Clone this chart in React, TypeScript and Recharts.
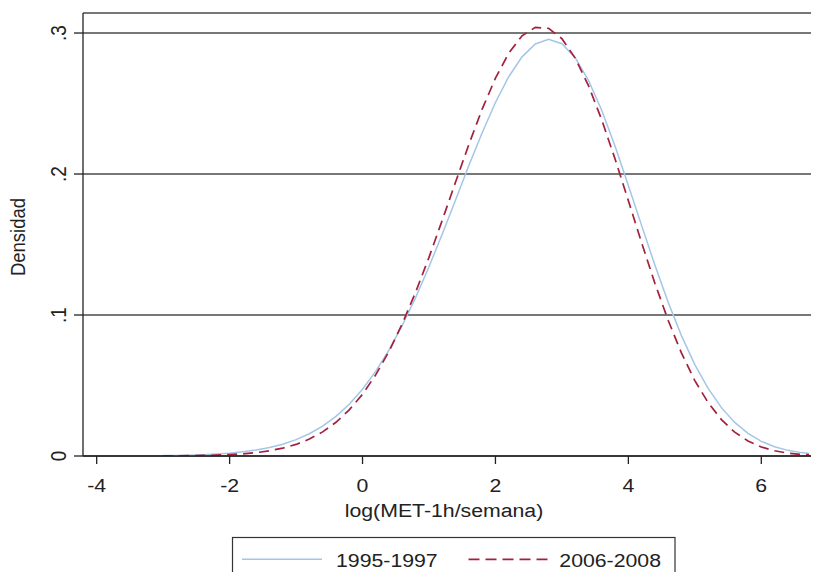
import { LineChart, Line, XAxis, YAxis, CartesianGrid, Label } from "recharts";

// evaluation points of the kernel density (log MET-h/week)
const xPoints = [
  -3.0, -2.8, -2.6, -2.4, -2.2, -2.0, -1.8, -1.6, -1.4, -1.2, -1.0, -0.8, -0.6, -0.4, -0.2,
  0.0, 0.2, 0.4, 0.6, 0.8, 1.0, 1.2, 1.4, 1.6, 1.8, 2.0, 2.2, 2.4, 2.6, 2.8,
  3.0, 3.2, 3.4, 3.6, 3.8, 4.0, 4.2, 4.4, 4.6, 4.8, 5.0, 5.2, 5.4, 5.6, 5.8,
  6.0, 6.2, 6.4, 6.6, 6.72,
];

const dens9597 = [
  0.0003, 0.0004, 0.0006, 0.0009, 0.0014, 0.002, 0.003, 0.0042, 0.006, 0.0084, 0.0116, 0.0158, 0.0212, 0.0281, 0.0367,
  0.0474, 0.0602, 0.0752, 0.0928, 0.1125, 0.1342, 0.1575, 0.1816, 0.206, 0.2293, 0.2507, 0.269, 0.2831, 0.2922, 0.2955,
  0.2924, 0.2825, 0.2664, 0.2451, 0.2197, 0.1919, 0.1634, 0.1353, 0.1089, 0.0852, 0.0648, 0.0479, 0.0343, 0.0238, 0.016,
  0.0104, 0.0066, 0.004, 0.0024, 0.0017,
];

const dens0608 = [
  0.0001, 0.0001, 0.0002, 0.0004, 0.0006, 0.001, 0.0015, 0.0024, 0.0037, 0.0056, 0.0082, 0.012, 0.0171, 0.0239, 0.0327,
  0.0438, 0.0577, 0.0744, 0.094, 0.1163, 0.1409, 0.1673, 0.1943, 0.221, 0.246, 0.268, 0.2857, 0.298, 0.304, 0.3033,
  0.296, 0.2822, 0.2627, 0.2383, 0.2106, 0.181, 0.1511, 0.1224, 0.0961, 0.0729, 0.0535, 0.0379, 0.0258, 0.0169, 0.0106,
  0.0064, 0.0037, 0.002, 0.0011, 0.0008,
];

const xTicks = [-4, -2, 0, 2, 4, 6];
const yTicks = [0, 0.1, 0.2, 0.3];
const yTickLabels = ["0", ".1", ".2", ".3"];

const data = xPoints.map((x, i) => ({ x, a: dens9597[i], b: dens0608[i] }));

const FONT = "'Liberation Sans', Arial, Helvetica, sans-serif";
const BLUE = "#a3c6e8";
const RED = "#a3213d";
const INK = "#222";

const XTick = ({ x, y, payload }: any) => (
  <text
    transform={`translate(${x},${y + 27.5}) scale(1.12,1)`}
    textAnchor="middle"
    fontSize={19}
    fontFamily={FONT}
    fill={INK}
  >
    {payload.value}
  </text>
);

const YTick = ({ x, y, payload }: any) => {
  const idx = yTicks.indexOf(payload.value);
  return (
    <text
      transform={`translate(${x - 8},${y}) scale(1.12,1) rotate(-90)`}
      textAnchor="middle"
      fontSize={19}
      fontFamily={FONT}
      fill={INK}
    >
      {idx >= 0 ? yTickLabels[idx] : payload.value}
    </text>
  );
};

const Legend = () => (
  <svg
    width={814}
    height={572}
    style={{ position: "absolute", left: 0, top: 0, pointerEvents: "none" }}
  >
    <rect x={232.5} y={537.5} width={442.5} height={50} fill="#fff" stroke="#333" strokeWidth={1.2} />
    <line x1={242} x2={322} y1={559.3} y2={559.3} stroke={BLUE} strokeWidth={1.5} />
    <text transform="translate(336,566.7) scale(1.12,1)" fontSize={19} fontFamily={FONT} fill={INK}>
      1995-1997
    </text>
    <line x1={468.5} x2={548.5} y1={559.3} y2={559.3} stroke={RED} strokeWidth={1.7} strokeDasharray="11 6" />
    <text transform="translate(559.3,566.7) scale(1.12,1)" fontSize={19} fontFamily={FONT} fill={INK}>
      2006-2008
    </text>
  </svg>
);

const App = () => {
  return (
    <div
      style={{
        position: "absolute",
        left: 0,
        top: 0,
        width: 814,
        height: 572,
        overflow: "hidden",
        background: "#fff",
      }}
    >
      <LineChart width={814} height={572} data={data} margin={{ top: 13, right: 3, left: 0, bottom: 0 }}>
        <CartesianGrid horizontal vertical={false} stroke="#4a4a4a" strokeWidth={1.3} />
        <XAxis
          dataKey="x"
          type="number"
          domain={[-4.206, 6.748]}
          ticks={xTicks}
          interval={0}
          allowDataOverflow
          height={116}
          tickSize={8}
          tickMargin={0}
          tick={<XTick />}
          axisLine={{ stroke: INK, strokeWidth: 1.3 }}
          tickLine={{ stroke: INK, strokeWidth: 1.3 }}
        >
          <Label
            content={() => (
              <text
                transform="translate(444,516.7) scale(1.12,1)"
                textAnchor="middle"
                fontSize={19}
                fontFamily={FONT}
                fill={INK}
              >
                log(MET-1h/semana)
              </text>
            )}
          />
        </XAxis>
        <YAxis
          type="number"
          domain={[0, 0.3142]}
          ticks={yTicks}
          interval={0}
          allowDataOverflow
          width={83}
          tickSize={9}
          tickMargin={0}
          tick={<YTick />}
          axisLine={{ stroke: INK, strokeWidth: 1.3 }}
          tickLine={{ stroke: INK, strokeWidth: 1.3 }}
        >
          <Label
            content={() => (
              <text
                transform="translate(25,237) scale(1.12,1) rotate(-90)"
                textAnchor="middle"
                fontSize={18.5}
                fontFamily={FONT}
                fill={INK}
              >
                Densidad
              </text>
            )}
          />
        </YAxis>
        <Line
          type="linear"
          dataKey="a"
          name="1995-1997"
          stroke={BLUE}
          strokeWidth={1.5}
          dot={false}
          activeDot={false}
          isAnimationActive={false}
        />
        <Line
          type="linear"
          dataKey="b"
          name="2006-2008"
          stroke={RED}
          strokeWidth={1.7}
          strokeDasharray="10 6"
          dot={false}
          activeDot={false}
          isAnimationActive={false}
        />
      </LineChart>
      <Legend />
    </div>
  );
};

export default App;
